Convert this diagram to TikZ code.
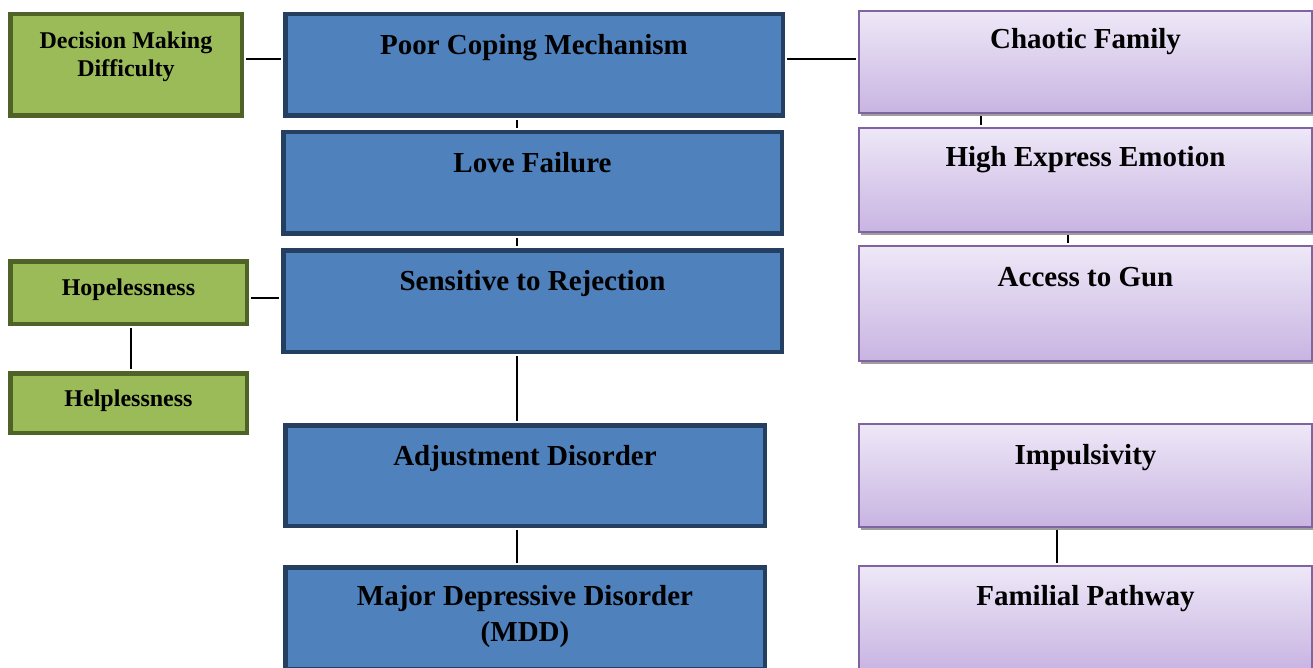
\documentclass[tikz,border=0pt]{standalone}
\usepackage{fontspec}
\setmainfont{Liberation Serif}
\usetikzlibrary{shadows}
\definecolor{bluefill}{HTML}{4F81BD}
\definecolor{blueline}{HTML}{243F60}
\definecolor{greenfill}{HTML}{9BBB59}
\definecolor{greenline}{HTML}{4F6228}
\definecolor{purpleline}{HTML}{8064A2}
\definecolor{purpletop}{HTML}{EEE8F7}
\definecolor{purplebot}{HTML}{C8B4E2}
\begin{document}
\begin{tikzpicture}[x=1pt,y=-1pt,
  box/.style={draw,rectangle,inner sep=0pt,align=center,font=\bfseries\fontsize{29}{36}\selectfont},
  bluebox/.style={box,fill=bluefill,draw=blueline,line width=4.5pt},
  greenbox/.style={box,fill=greenfill,draw=greenline,line width=4.5pt,font=\bfseries\fontsize{24}{28}\selectfont},
  purplebox/.style={box,top color=purpletop,bottom color=purplebot,draw=purpleline,line width=2pt,
    minimum width=453pt,drop shadow={shadow xshift=2pt,shadow yshift=-3pt,fill=black!38,opacity=1}},
  link/.style={line width=1.8pt,shorten <=2pt,shorten >=2pt}]
\useasboundingbox (0,0) rectangle (1313,668);
\clip (0,0) rectangle (1313,668);
% centre column
\node[bluebox,minimum width=497.5pt,minimum height=101.5pt,text height=40pt,text depth=61.5pt] (pcm) at (534,65) {Poor Coping Mechanism};
\node[bluebox,minimum width=498.5pt,minimum height=101.5pt,text height=40pt,text depth=61.5pt] (lf) at (532.5,183) {Love Failure};
\node[bluebox,minimum width=498.5pt,minimum height=101.5pt,text height=40pt,text depth=61.5pt] (sr) at (532.5,301) {Sensitive to Rejection};
\node[bluebox,minimum width=479.5pt,minimum height=100.5pt,text height=40pt,text depth=60.5pt] (ad) at (525,475.5) {Adjustment Disorder};
\node[bluebox,minimum width=479.5pt,minimum height=101.5pt,text height=74pt,text depth=27.5pt] (mdd) at (525,618) {Major Depressive Disorder\\(MDD)};
% left column
\node[greenbox,minimum width=231.5pt,minimum height=101.5pt,text height=62pt,text depth=39.5pt] (dmd) at (126,65) {Decision Making\\Difficulty};
\node[greenbox,minimum width=236.5pt,minimum height=62.5pt,text height=34pt,text depth=28.5pt] (hope) at (128.5,292.5) {Hopelessness};
\node[greenbox,minimum width=236.5pt,minimum height=59.5pt,text height=33pt,text depth=26.5pt] (help) at (128.5,403) {Helplessness};
% right column
\node[purplebox,minimum height=102pt,text height=38pt,text depth=64pt] (cf) at (1085.5,62) {Chaotic Family};
\node[purplebox,minimum height=104pt,text height=39pt,text depth=65pt] (hee) at (1085.5,180) {High Express Emotion};
\node[purplebox,minimum height=115pt,text height=40pt,text depth=75pt] (atg) at (1085.5,303.5) {Access to Gun};
\node[purplebox,minimum height=103pt,text height=40pt,text depth=63pt] (imp) at (1085.5,475.5) {Impulsivity};
\node[purplebox,minimum height=104pt,text height=39pt,text depth=65pt] (fp) at (1085.5,618) {Familial Pathway};
% connectors
\draw[link] ([yshift=6pt]dmd.east) -- ([yshift=6pt]dmd.east -| pcm.west);
\draw[link] ([yshift=6pt]pcm.east) -- ([yshift=6pt]pcm.east -| cf.west);
\draw[link] ([xshift=-17pt]pcm.south) -- ([xshift=-17pt]pcm.south |- lf.north);
\draw[link] ([xshift=-15.5pt]lf.south) -- ([xshift=-15.5pt]lf.south |- sr.north);
\draw[link] ([xshift=-15.5pt]sr.south) -- ([xshift=-15.5pt]sr.south |- ad.north);
\draw[link] ([xshift=-8pt]ad.south) -- ([xshift=-8pt]ad.south |- mdd.north);
\draw[link] ([yshift=-5.5pt]hope.east) -- ([yshift=-5.5pt]hope.east -| sr.west);
\draw[link] ([xshift=2.5pt]hope.south) -- ([xshift=2.5pt]hope.south |- help.north);
\draw[link] ([xshift=-104.5pt]cf.south) -- ([xshift=-104.5pt]cf.south |- hee.north);
\draw[link] ([xshift=-17.5pt]hee.south) -- ([xshift=-17.5pt]hee.south |- atg.north);
\draw[link] ([xshift=-28.5pt]imp.south) -- ([xshift=-28.5pt]imp.south |- fp.north);
\end{tikzpicture}
\end{document}
